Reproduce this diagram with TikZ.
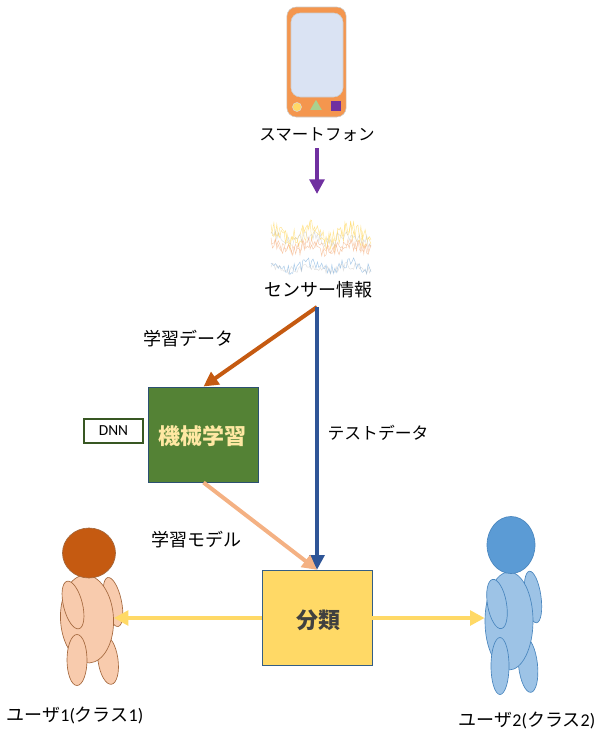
\documentclass[tikz,border=0pt]{standalone}
\usepackage{fontspec}
\setmainfont{Noto Sans CJK JP}
\newfontfamily\latinfont{Carlito}
\usetikzlibrary{arrows.meta,shapes.geometric,positioning}
\definecolor{phoneorange}{HTML}{F4964E}
\definecolor{screenblue}{HTML}{DAE3F3}
\definecolor{softyellow}{HTML}{FFD966}
\definecolor{softgreen}{HTML}{A9D18E}
\definecolor{deepviolet}{HTML}{7030A0}
\definecolor{rust}{HTML}{C55A11}
\definecolor{navy}{HTML}{2F5597}
\definecolor{salmon}{HTML}{F4B183}
\definecolor{forest}{HTML}{548235}
\definecolor{darkforest}{HTML}{385723}
\definecolor{skin}{HTML}{F8CBAD}
\definecolor{skinline}{HTML}{A5693F}
\definecolor{sky}{HTML}{9DC3E6}
\definecolor{skyline}{HTML}{4A86BE}
\definecolor{skyhead}{HTML}{5B9BD5}

\begin{document}
\begin{tikzpicture}[
  x=0.75pt,y=-0.75pt,
  caption/.style={font=\fontsize{#1}{16}\selectfont,inner sep=0pt},
  caption/.default=13.5,
  flow/.style={line width=#1,-{Triangle[length=11pt,width=11pt]}},
  bigbox/.style={draw=#1,line width=0.5pt,minimum width=82.5pt,minimum height=71.5pt,inner sep=0pt,font=\fontsize{16.5}{18}\selectfont\bfseries},
  part/.style n args={3}{ellipse,inner sep=0pt,line width=0.5pt,minimum width=#1*0.75pt,minimum height=#2*0.75pt,rotate=#3},
  peach/.style={part={#1},draw=skinline,fill=skin},
  blue part/.style={part={#1},draw=skyline,fill=sky}
]
  \useasboundingbox (0,0) rectangle (596,729);

  % phone
  \node[draw=black!20,fill=phoneorange,rounded corners=7pt,minimum width=44.5pt,minimum height=82.5pt,inner sep=0pt] (phone) at (316.5,62) {};
  \node[draw=black!20,fill=screenblue,rounded corners=7pt,minimum width=39pt,minimum height=63pt,inner sep=0pt] (screen) at (317,55) {};
  \node[circle,fill=softyellow,draw=black!15,minimum size=6.75pt,inner sep=0pt] (btnround) at (297,107) {};
  \node[isosceles triangle,isosceles triangle apex angle=60,shape border rotate=90,fill=softgreen,minimum height=7.5pt,inner sep=0pt] (btntri) at (316,106.5) {};
  \node[fill=deepviolet,minimum size=7.5pt,inner sep=0pt] (btnsquare) at (336,106) {};
  \node[caption=12.4] (phonelabel) at (317,135) {スマートフォン};

  % sensor traces
  \pgfmathsetseed{41}
  \foreach \base/\amp/\col/\op in {236/20/softyellow/0.7,233/16/softyellow/0.7,238/12/black!25/0.5,248/14/salmon/0.7,246/10/salmon/0.6,266/11/sky/0.9,268/8/black!25/0.5}
    \draw[\col,line width=0.35pt,opacity=\op] plot[domain=271:371,samples=70] (\x,{\base+\amp*(rnd-0.5)+0.3*\amp*sin(9*\x)});
  \node[caption] (sensorlabel) at (318,290) {センサー情報};
  \coordinate (fork) at (317,307);
  \coordinate (sensorin) at (317,194);
  \coordinate (phoneout) at (317,148);

  % main boxes
  \node[bigbox=black!40!skyline,fill=forest] (learn) at (203.5,434.5) {};
  \node[font=\fontsize{16.5}{18}\selectfont\bfseries,text=softyellow!60!white,inner sep=0pt] (learntext) at (202,436) {機械学習};
  \node[draw=darkforest,line width=1.5pt,minimum width=44pt,minimum height=18.5pt,inner sep=0pt,font=\latinfont\fontsize{11.5}{12}\selectfont] (dnn) at (113.5,431) {DNN};
  \node[bigbox=black!30!skyline,fill=softyellow,minimum height=71pt] (classify) at (317,617.5) {};
  \node[font=\fontsize{16.5}{18}\selectfont\bfseries,text=black!75,inner sep=0pt] (classifytext) at (318,620) {分類};

  % person on the left
  \node[peach={17}{50}{12}] (armR1) at (113,602) {};
  \node[peach={20}{49}{8}] (legR1) at (108,660) {};
  \node[peach={53}{88}{3}] (body1) at (87,619) {};
  \node[peach={19}{49}{14}] (armL1) at (73,605) {};
  \node[peach={20}{51}{0}] (legL1) at (77,660) {};
  \node[part={53}{50}{0},draw=skinline,fill=rust] (head1) at (89,553) {};

  % person on the right
  \node[blue part={16}{52}{8}] (armR2) at (533,597) {};
  \node[blue part={19}{55}{6}] (legR2) at (528,665) {};
  \node[blue part={48}{98}{0}] (body2) at (509,621) {};
  \node[blue part={19}{50}{10}] (armL2) at (497,604) {};
  \node[blue part={18}{57}{0}] (legL2) at (500,666) {};
  \node[part={48}{57}{0},draw=skyline,fill=skyhead] (head2) at (511,545) {};

  % labels
  \node[caption] (trainlabel) at (188,339) {学習データ};
  \node[caption=12.6] (testlabel) at (378,433) {テストデータ};
  \node[caption] (modellabel) at (196,540) {学習モデル};
  \node[caption] (user1) at (75,715) {ユーザ{\latinfont 1(}クラス{\latinfont 1)}};
  \node[caption] (user2) at (527,720) {ユーザ{\latinfont 2(}クラス{\latinfont 2)}};

  % arrows
  \draw[flow=3.5pt,deepviolet] (phoneout) -- (sensorin);
  \draw[flow=3pt,rust] (fork) -- (learn.north);
  \draw[flow=3.5pt,navy] (fork) -- (classify.north);
  \draw[flow=3pt,salmon] (learn.south) -- (classify.north);
  \draw[flow=3pt,softyellow] (classify.west |- 0,618) -- (body1.east |- 0,618);
  \draw[flow=3pt,softyellow] (classify.east |- 0,618) -- (body2.west |- 0,618);
\end{tikzpicture}
\end{document}
